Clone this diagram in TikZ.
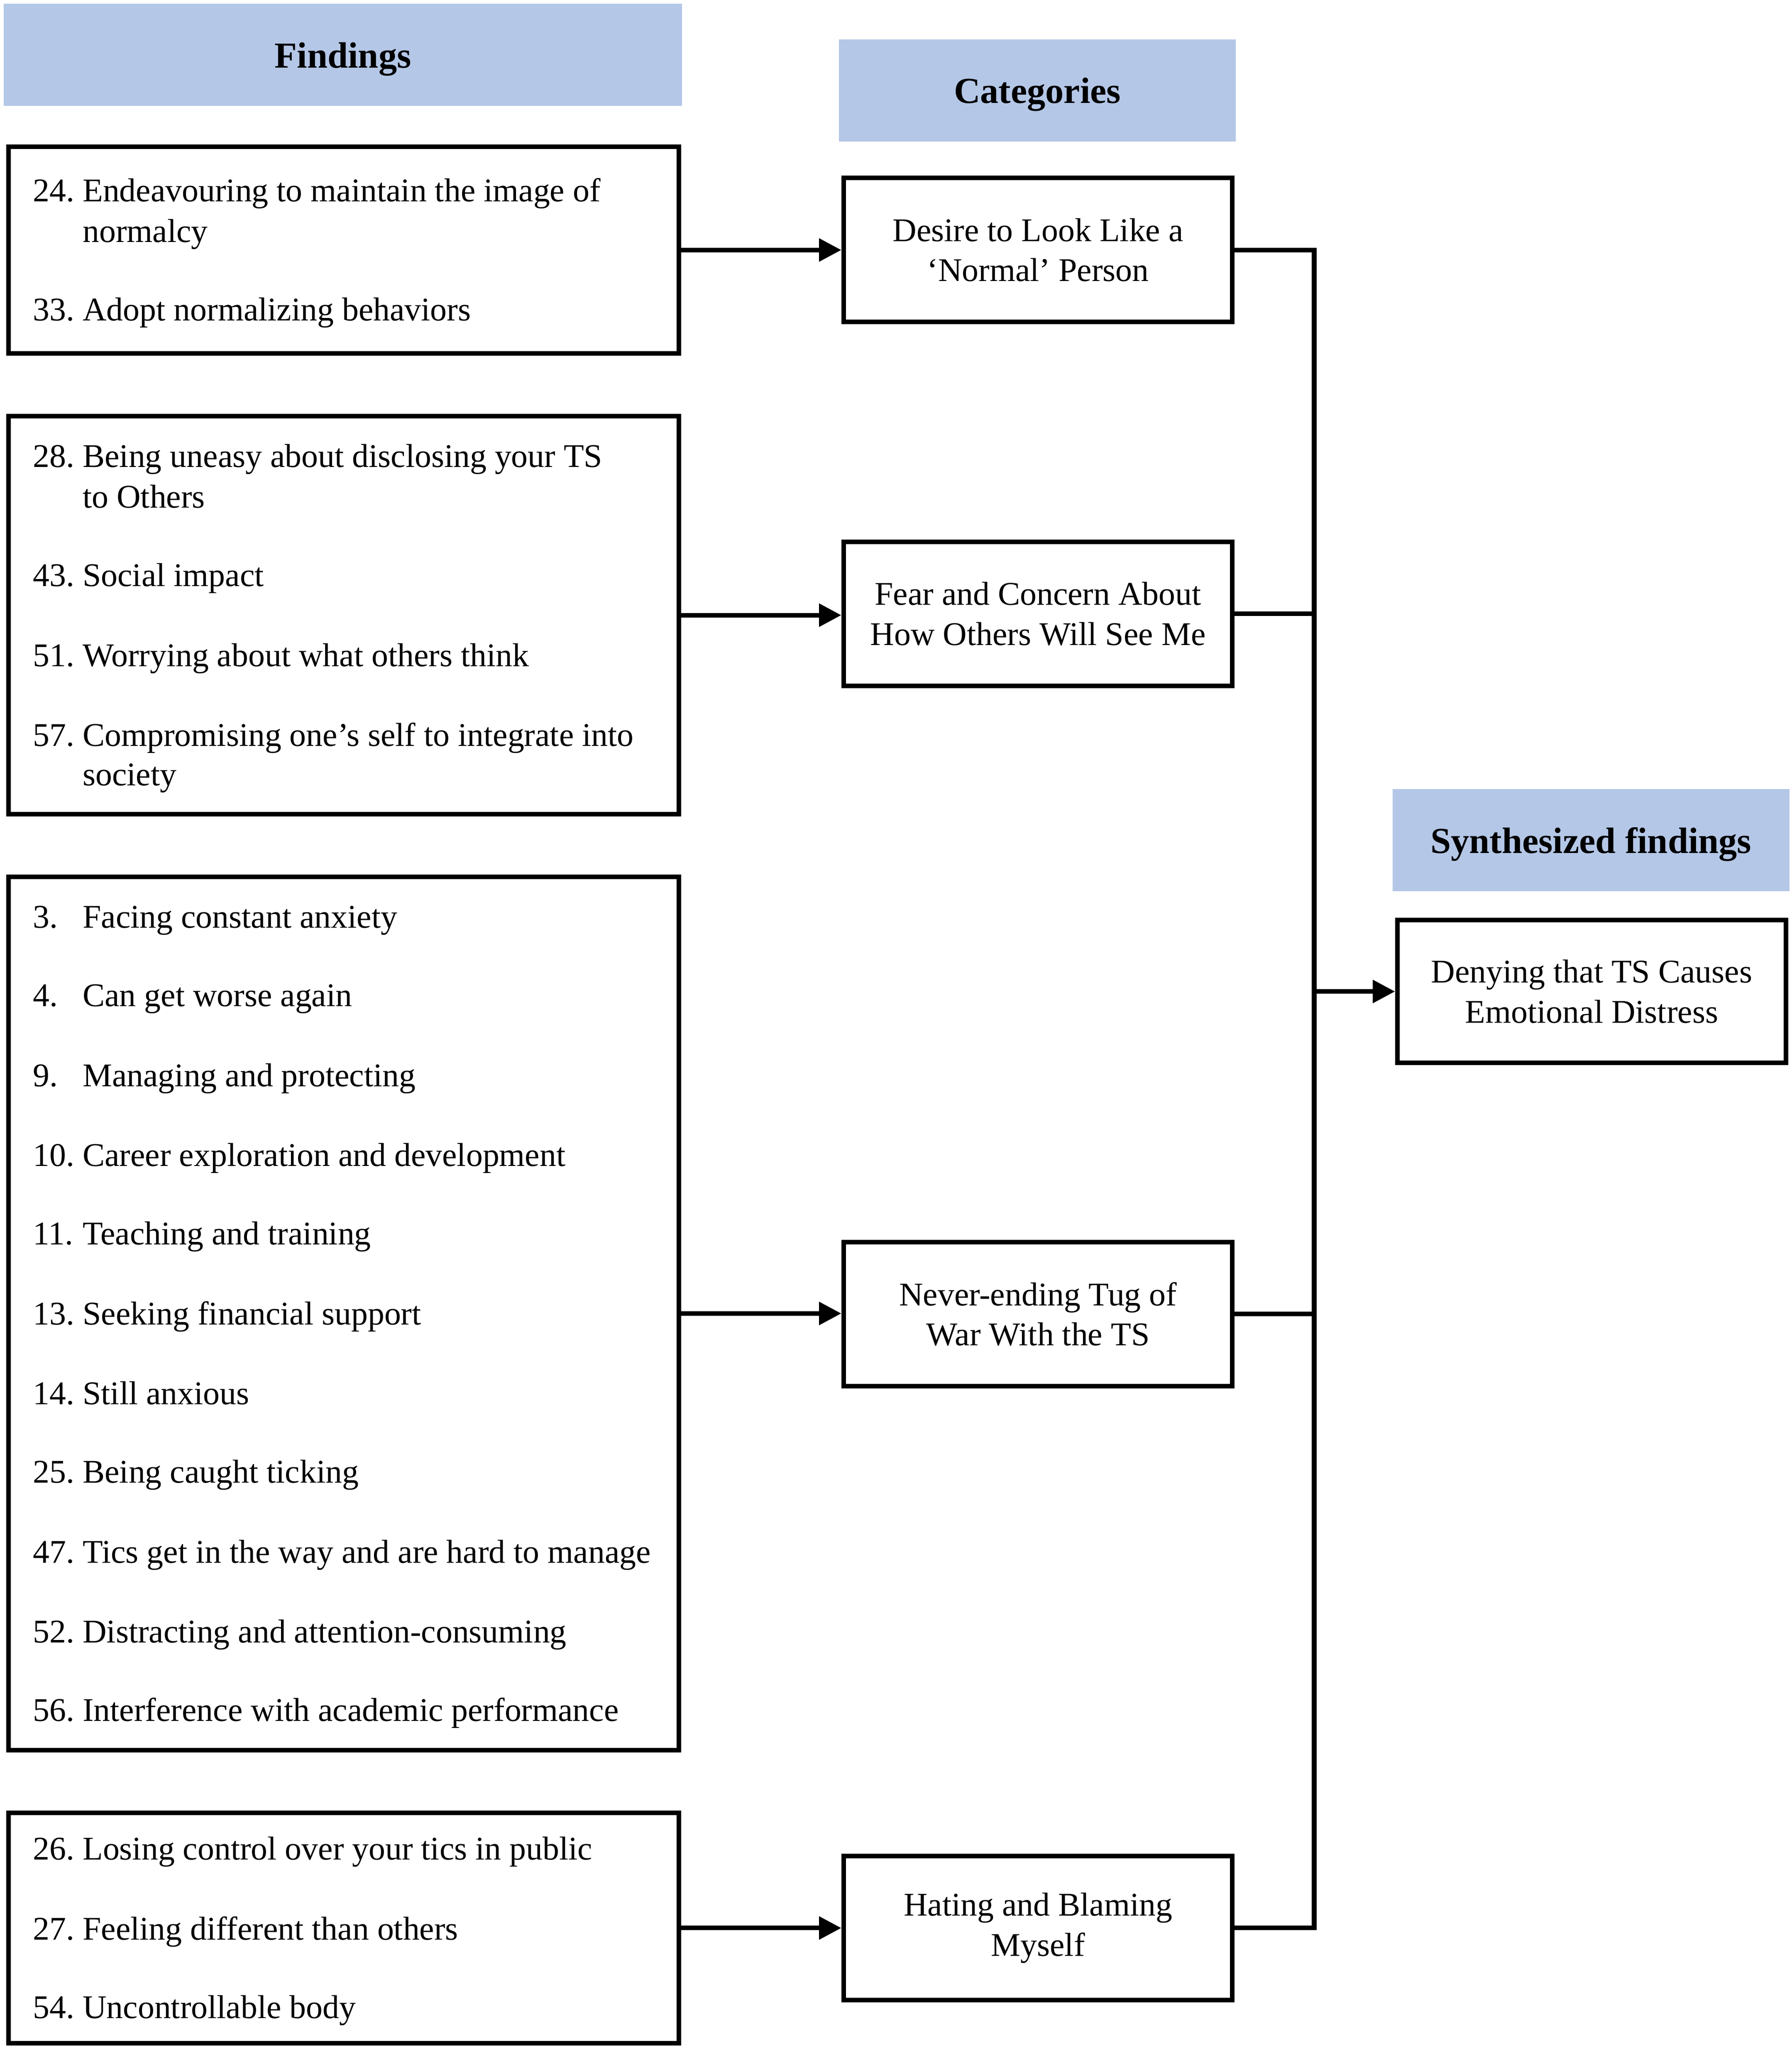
\documentclass[tikz,border=0pt]{standalone}
\usepackage{fontspec}
\setmainfont{Liberation Serif}
\usetikzlibrary{arrows.meta}
\definecolor{hdr}{RGB}{180,199,231}
\newcommand\bodyfont{\fontsize{25.3}{30.5}\selectfont}
\newcommand\hdrfont{\fontsize{28}{33}\selectfont\bfseries}
\begin{document}
\begin{tikzpicture}[x=1pt,y=-1pt,
  hdrbox/.style={fill=hdr,draw=none,inner sep=0,text depth=0pt,font=\hdrfont},
  findbox/.style={draw=black,line width=3.5pt,inner sep=0,minimum width=512pt},
  catbox/.style={draw=black,line width=3.5pt,inner sep=2pt,minimum width=297pt,minimum height=110pt,align=center,font=\bodyfont},
  itemtxt/.style={anchor=base west,inner sep=0,font=\bodyfont},
  conn/.style={line width=3.5pt,line join=miter},
  arr/.style={conn,-{Triangle[length=17pt,width=17pt]}}]
\useasboundingbox (0,0) rectangle (1369,1564.7);
% headers
\node[hdrbox,minimum width=518pt,minimum height=78pt] (hF) at (262,42) {Findings};
\node[hdrbox,minimum width=303pt,minimum height=78pt] (hC) at (792.5,69) {Categories};
\node[hdrbox,minimum width=303pt,minimum height=78pt] (hS) at (1215.5,642) {Synthesized findings};
% finding boxes
\node[findbox,minimum height=158pt] (f1) at (262.5,191) {};
\node[findbox,minimum height=304pt] (f2) at (262.5,470) {};
\node[findbox,minimum height=667pt] (f3) at (262.5,1003.5) {};
\node[findbox,minimum height=176pt] (f4) at (262.5,1473) {};
% finding texts
\foreach \yy/\nn/\txt [count=\k] in {147/24./Endeavouring to maintain the image of,178//normalcy,238/33./Adopt normalizing behaviors,
  350/28./Being uneasy about disclosing your TS,381//to Others,441/43./Social impact,502/51./Worrying about what others think,563/57./Compromising one’s self to integrate into,593//society,
  702/3./Facing constant anxiety,762/4./Can get worse again,823/9./Managing and protecting,884/10./Career exploration and development,944/11./Teaching and training,1005/13./Seeking financial support,1066/14./Still anxious,1126/25./Being caught ticking,1187/47./Tics get in the way and are hard to manage,1248/52./Distracting and attention-consuming,1308/56./Interference with academic performance,
  1414/26./Losing control over your tics in public,1475/27./Feeling different than others,1535/54./Uncontrollable body}
{
  \node[itemtxt] (n\k) at (25,\yy+7) {\nn};
  \node[itemtxt] (t\k) at (63,\yy+7) {\txt};
}
% category boxes
\node[catbox] (c1) at (793,191) {Desire to Look Like a\\‘Normal’ Person};
\node[catbox] (c2) at (793,469) {Fear and Concern About\\How Others Will See Me};
\node[catbox] (c3) at (793,1004) {Never-ending Tug of\\War With the TS};
\node[catbox] (c4) at (793,1473) {Hating and Blaming\\Myself};
% synthesized
\node[catbox,minimum height=109pt] (s1) at (1216,757.5) {Denying that TS Causes\\Emotional Distress};
% connectors
\draw[arr] (f1.east) -- (c1.west);
\draw[arr] (f2.east) -- (f2.east -| c2.west);
\draw[arr] (f3.east) -- (f3.east -| c3.west);
\draw[arr] (f4.east) -- (c4.west);
\coordinate (bus) at (1004,0);
\draw[conn] (c1.east) -- (c1.east -| bus) |- (c4.east);
\draw[conn] (c2.east) -- (c2.east -| bus);
\draw[conn] (c3.east) -- (c3.east -| bus);
\draw[arr] (s1.west -| bus) -- (s1.west);
\end{tikzpicture}
\end{document}
